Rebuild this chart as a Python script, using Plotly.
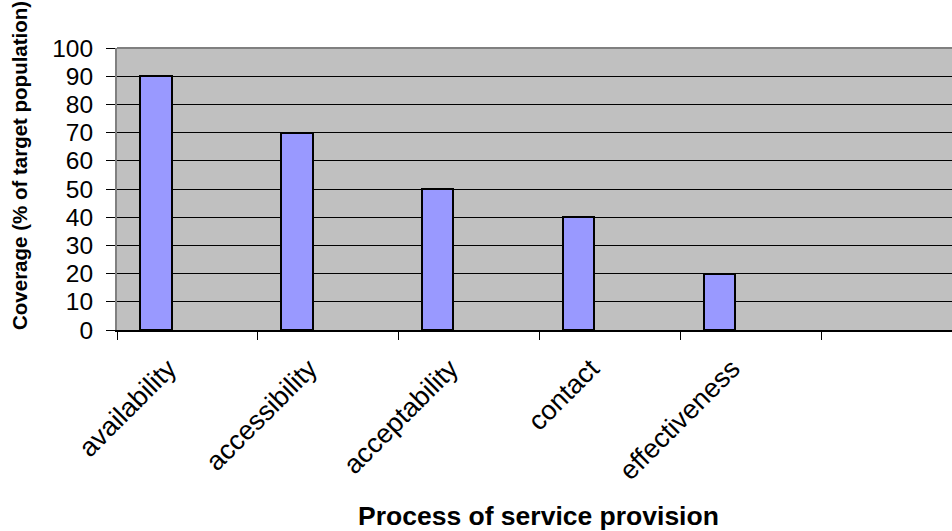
import plotly.graph_objects as go

categories = ["availability", "accessibility", "acceptability", "contact", "effectiveness", " "]
coverage = [90, 70, 50, 40, 20, None]
y_ticks = [0, 10, 20, 30, 40, 50, 60, 70, 80, 90, 100]

x_title = "Process of service provision"
y_title = "Coverage (% of target population)"

PLOT_L, PLOT_T, PLOT_B = 117, 48, 330
W, H = 952, 531
pw, ph = W - PLOT_L, PLOT_B - PLOT_T

fig = go.Figure()
fig.add_trace(go.Bar(
    x=categories,
    y=coverage,
    width=0.225,
    offset=-0.337,
    marker=dict(color="#9999FF", line=dict(color="black", width=2)),
    showlegend=False,
))

fig.update_layout(
    width=W,
    height=H,
    margin=dict(l=PLOT_L, r=0, t=PLOT_T, b=H - PLOT_B, autoexpand=False),
    paper_bgcolor="white",
    plot_bgcolor="#C0C0C0",
    font=dict(family="Arial, Liberation Sans, sans-serif", color="black"),
    bargap=0,
)

fig.update_xaxes(
    type="category",
    categoryorder="array",
    categoryarray=categories,
    range=[-0.5, 5.426],
    tickson="boundaries",
    ticks="outside",
    ticklen=8,
    tickwidth=1,
    tickcolor="black",
    tickangle=-45,
    tickfont=dict(size=27),
    ticklabelstandoff=10,
    ticklabelshift=-19,
    showline=True,
    linecolor="black",
    linewidth=2,
    showgrid=False,
    automargin=False,
)

fig.update_yaxes(
    range=[0, 100],
    tickvals=y_ticks,
    ticks="outside",
    ticklen=9,
    tickwidth=1,
    tickcolor="black",
    tickfont=dict(size=24.5),
    ticklabelstandoff=8,
    showline=True,
    linecolor="#808080",
    linewidth=2,
    showgrid=True,
    gridcolor="black",
    gridwidth=1,
    zeroline=False,
    automargin=False,
)

fig.add_annotation(
    text="<b>" + x_title + "</b>", xref="paper", yref="paper",
    x=(538 - PLOT_L) / pw, y=(PLOT_B - 516) / ph,
    xanchor="center", yanchor="middle", showarrow=False,
    font=dict(size=26.5),
)
fig.add_annotation(
    text="<b>" + y_title + "</b>", xref="paper", yref="paper",
    x=(19 - PLOT_L) / pw, y=(PLOT_B - 166) / ph,
    xanchor="center", yanchor="middle", showarrow=False, textangle=-90,
    font=dict(size=20.5),
)

fig.add_shape(type="line", xref="paper", yref="paper", x0=0, x1=1, y0=1, y1=1,
              line=dict(color="#808080", width=2), layer="above")

fig.write_html("out.html")
